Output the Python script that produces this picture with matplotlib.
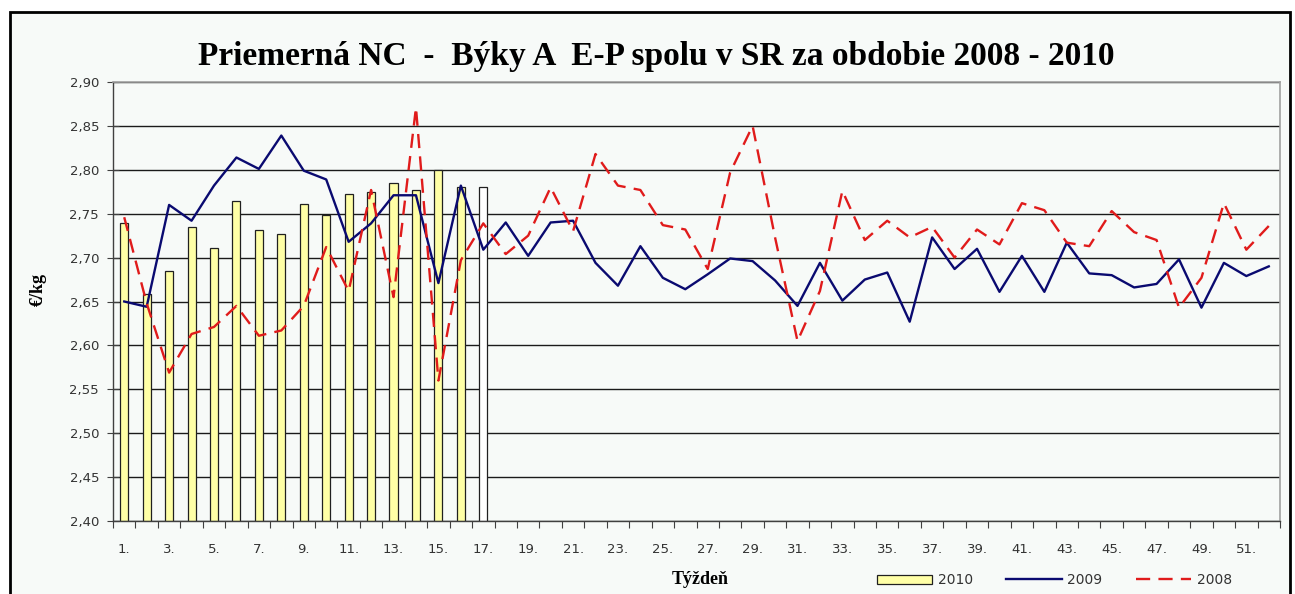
import matplotlib
matplotlib.use("Agg")
import matplotlib.pyplot as plt
from matplotlib.patches import Rectangle
import numpy as np

weeks = list(range(1, 53))
weeks_2010 = list(range(1, 18))
y2010 = [2.739, 2.659, 2.685, 2.735, 2.711, 2.764, 2.731, 2.727, 2.761, 2.748,
         2.773, 2.775, 2.785, 2.777, 2.800, 2.780, 2.780]
y2009 = [2.650, 2.644, 2.760, 2.742, 2.782, 2.814, 2.801, 2.839, 2.799, 2.789,
         2.718, 2.739, 2.771, 2.771, 2.671, 2.782, 2.709, 2.740, 2.702, 2.740,
         2.742, 2.694, 2.668, 2.713, 2.677, 2.664, 2.681, 2.699, 2.696, 2.674,
         2.645, 2.694, 2.651, 2.675, 2.683, 2.627, 2.723, 2.687, 2.710, 2.661,
         2.702, 2.661, 2.717, 2.682, 2.680, 2.666, 2.670, 2.698, 2.643, 2.694,
         2.679, 2.690]
y2008 = [2.746, 2.648, 2.569, 2.613, 2.621, 2.645, 2.611, 2.617, 2.645, 2.712,
         2.662, 2.777, 2.655, 2.871, 2.560, 2.697, 2.739, 2.704, 2.725, 2.780,
         2.730, 2.818, 2.782, 2.777, 2.737, 2.732, 2.687, 2.797, 2.850, 2.723,
         2.605, 2.662, 2.776, 2.720, 2.742, 2.723, 2.735, 2.700, 2.732, 2.715,
         2.762, 2.754, 2.717, 2.713, 2.753, 2.729, 2.720, 2.643, 2.677, 2.762,
         2.709, 2.736]
yticks = [2.40, 2.45, 2.50, 2.55, 2.60, 2.65, 2.70, 2.75, 2.80, 2.85, 2.90]
xtick_weeks = list(range(1, 53, 2))
xtick_labels = [f"{w}." for w in xtick_weeks]

W, H = 1295, 594
fig = plt.figure(figsize=(W / 100, H / 100), dpi=100)
fig.patch.set_facecolor("white")
bg = "#f7faf8"
fig.patches.append(Rectangle((10 / W, -0.02), 1280 / W, (H - 12) / H + 0.02,
                             transform=fig.transFigure, facecolor=bg,
                             edgecolor="black", linewidth=2, zorder=-10))

ax = fig.add_axes([113 / W, (H - 521) / H, 1167 / W, 439 / H])
ax.set_facecolor(bg)

bar_colors = ["#ffffa6"] * 16 + ["#ffffff"]
hb = ax.bar(weeks_2010, [v - 2.40 for v in y2010], bottom=2.40, width=0.36,
            color=bar_colors, edgecolor="#202020", linewidth=0.9, zorder=2,
            label="2010")
hl9, = ax.plot(weeks, y2009, color="#0a0a70", linewidth=1.7, zorder=3, label="2009")
hl8, = ax.plot(weeks, y2008, color="#e01b1b", linewidth=1.7, dashes=(6, 3.5),
               zorder=4, label="2008")

ax.set_xlim(0.5, 52.5)
ax.set_ylim(2.40, 2.90)
ax.set_yticks(yticks)
ax.set_yticklabels([f"{v:.2f}".replace(".", ",") for v in yticks],
                   fontsize=9.5, color="#333333")
ax.yaxis.grid(True, color="#1a1a1a", linewidth=1)
ax.set_axisbelow(True)
ax.tick_params(axis="y", direction="inout", length=8, color="#404040", pad=6)

ax.set_xticks(np.arange(0.5, 53, 1.0))
ax.set_xticklabels([])
ax.tick_params(axis="x", which="major", direction="out", length=5, color="#404040")
ax.set_xticks(xtick_weeks, minor=True)
ax.set_xticklabels(xtick_labels, minor=True, fontsize=9.5, color="#333333")
ax.tick_params(axis="x", which="minor", length=0, pad=16)

for s in ["top", "right"]:
    ax.spines[s].set_color("#a0a0a0")
    ax.spines[s].set_linewidth(1.2)
for s in ["left", "bottom"]:
    ax.spines[s].set_color("#404040")
    ax.spines[s].set_linewidth(1.0)

fig.text(656 / W, 1 - 56 / H, "Priemerná NC  -  Býky A  E-P spolu v SR za obdobie 2008 - 2010",
         ha="center", va="center", fontsize=24, fontweight="bold",
         family="Liberation Serif")
fig.text(38 / W, 1 - 290 / H, "€/kg", rotation=90, ha="center", va="center",
         fontsize=13, fontweight="bold", family="Liberation Serif")
fig.text(700 / W, 1 - 579 / H, "Týždeň", ha="center", va="center",
         fontsize=13, fontweight="bold", family="Liberation Serif")

leg = fig.legend(handles=[hb, hl9, hl8], labels=["2010", "2009", "2008"],
                 loc="center left", bbox_to_anchor=(864 / W, 1 - 580 / H),
                 ncol=3, frameon=False, fontsize=10, handlelength=4.0,
                 handleheight=0.6, handletextpad=0.4, columnspacing=2.4)
for t in leg.get_texts():
    t.set_color("#333333")

fig.savefig("out.png", dpi=100, facecolor="white")
